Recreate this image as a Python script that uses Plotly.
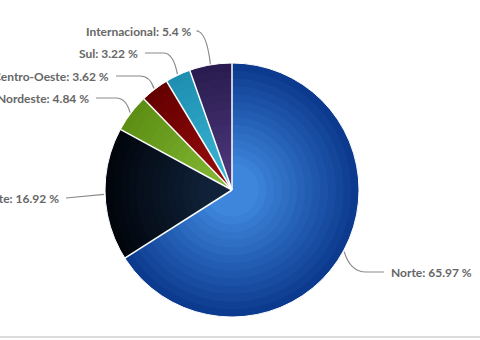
import math
import plotly.graph_objects as go

# ---- data ----
labels = ["Norte", "Sudeste", "Nordeste", "Centro-Oeste", "Sul", "Internacional"]
values = [65.97, 16.92, 4.84, 3.62, 3.22, 5.4]
label_texts = ["Norte: 65.97 %", "Sudeste: 16.92 %", "Nordeste: 4.84 %",
               "Centro-Oeste: 3.62 %", "Sul: 3.22 %", "Internacional: 5.4 %"]

# ---- styling ----
outer_colors = ["#0c3a8e", "#01060d", "#5c8f14", "#650000", "#1e8fb0", "#2a1c50"]
inner_colors = ["#3d86dc", "#10223a", "#80b431", "#940a0a", "#38b2d2", "#4a3578"]

W, H = 480, 340
CX, CY, R = 232, 190, 127

# label placement (pixel positions of text anchor) and side
label_pos = {
    "Norte": (389, 272, "left"),
    "Sudeste": (61, 198, "right"),
    "Nordeste": (91, 98, "right"),
    "Centro-Oeste": (111, 76, "right"),
    "Sul": (140, 53, "right"),
    "Internacional": (194, 31, "right"),
}


def hexrgb(h):
    h = h.lstrip("#")
    return [int(h[i:i + 2], 16) for i in (0, 2, 4)]


def mix(a, b, t):
    A, B = hexrgb(a), hexrgb(b)
    return "rgb(%d,%d,%d)" % tuple(round(A[i] + (B[i] - A[i]) * t) for i in range(3))


fig = go.Figure()

# radial gradient via concentric pie layers
n_layers = 14
for k in range(n_layers):
    frac = 1.0 - k * (0.85 / n_layers)  # radius fraction
    t = k / (n_layers - 1)
    cols = [mix(o, i, t) for o, i in zip(outer_colors, inner_colors)]
    r = R * frac
    fig.add_trace(go.Pie(
        labels=labels, values=values, sort=False, direction="clockwise",
        rotation=0, marker=dict(colors=cols, line=dict(width=0)),
        textinfo="none", hoverinfo="skip", showlegend=False,
        domain=dict(x=[(CX - r) / W, (CX + r) / W],
                    y=[(H - CY - r) / H, (H - CY + r) / H]),
    ))

# hidden axes in pixel space for shapes/annotations
fig.add_trace(go.Scatter(x=[0, W], y=[0, H], mode="markers",
                         marker=dict(opacity=0), hoverinfo="skip", showlegend=False))

total = sum(values)
shapes = []
annotations = []
cum = 0.0
for lab, v, txt in zip(labels, values, label_texts):
    a0 = cum / total * 2 * math.pi
    # slice boundary separator
    shapes.append(dict(type="line", xref="x", yref="y",
                       x0=CX, y0=CY, x1=CX + R * math.sin(a0), y1=CY - R * math.cos(a0),
                       line=dict(color="white", width=1.5), layer="above"))
    mid = (cum + v / 2) / total * 2 * math.pi
    cum += v
    ex, ey = CX + (R + 1) * math.sin(mid), CY - (R + 1) * math.cos(mid)
    lx, ly, side = label_pos[lab]
    if side == "right":
        sx = lx + 5
        bx = ex - 14
        path = f"M {sx},{ly} L {bx},{ly} Q {ex - 4},{ly} {ex},{ey}"
        if abs(ey - ly) < 4:
            path = f"M {sx},{ly} L {ex},{ey}"
    else:
        sx = lx - 5
        bx = ex + 22
        path = f"M {sx},{ly} L {bx},{ly} Q {ex + 6},{ly} {ex},{ey}"
    shapes.append(dict(type="path", xref="x", yref="y", path=path,
                       line=dict(color="#8a8a8a", width=1.2), layer="above"))
    annotations.append(dict(x=lx, y=ly, xref="x", yref="y", text=txt, showarrow=False,
                            xanchor="right" if side == "right" else "left",
                            yanchor="middle",
                            font=dict(family="Lato", size=12, color="#666666", weight="bold")))

# outer circle thin white edge
shapes.append(dict(type="circle", xref="x", yref="y", x0=CX - R, x1=CX + R,
                   y0=CY - R, y1=CY + R, line=dict(color="white", width=1), layer="above"))
# bottom gray rule
shapes.append(dict(type="line", xref="x", yref="y", x0=0, x1=W, y0=337, y1=337,
                   line=dict(color="#dcdcdc", width=2), layer="above"))

fig.update_layout(
    width=W, height=H, margin=dict(l=0, r=0, t=0, b=0),
    paper_bgcolor="white", plot_bgcolor="white",
    xaxis=dict(range=[0, W], visible=False, fixedrange=True),
    yaxis=dict(range=[H, 0], visible=False, fixedrange=True),
    shapes=shapes, annotations=annotations, showlegend=False,
)

fig.write_html("out.html")
